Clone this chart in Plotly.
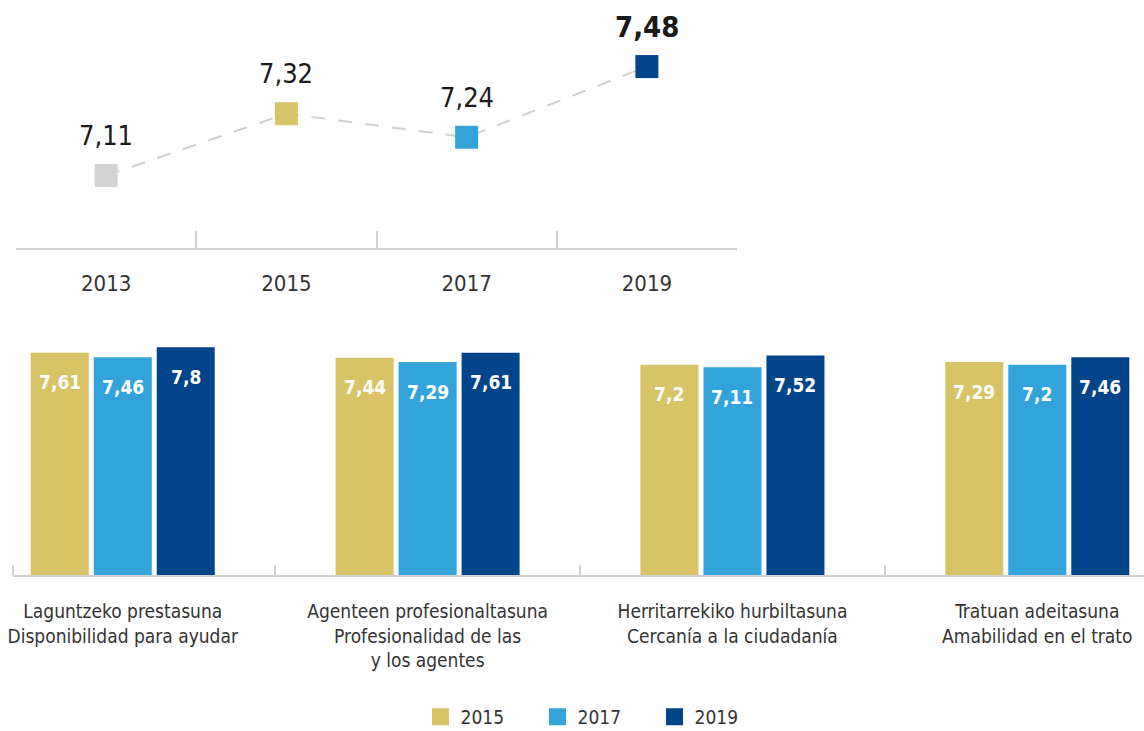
import plotly.graph_objects as go

# ---- data ----
years_trend = ["2013", "2015", "2017", "2019"]
trend_values = [7.11, 7.32, 7.24, 7.48]

categories = [
    "Laguntzeko prestasuna<br>Disponibilidad para ayudar",
    "Agenteen profesionaltasuna<br>Profesionalidad de las<br>y los agentes",
    "Herritarrekiko hurbiltasuna<br>Cercanía a la ciudadanía",
    "Tratuan adeitasuna<br>Amabilidad en el trato",
]
series_names = ["2015", "2017", "2019"]
values_2015 = [7.61, 7.44, 7.20, 7.29]
values_2017 = [7.46, 7.29, 7.11, 7.20]
values_2019 = [7.80, 7.61, 7.52, 7.46]

# ---- styles ----
FONT = "DejaVu Sans Condensed, Liberation Sans Narrow, Arial Narrow, sans-serif"
C_GRAY = "#d3d3d3"
C_GOLD = "#d9c367"
C_LBLUE = "#33a3db"
C_NAVY = "#00458a"
AXIS_C = "#d0d0d0"
W, H = 1144, 731
BAR_LINE = 5


def fmt(v):
    s = ("%.2f" % v).rstrip("0").rstrip(".")
    return s.replace(".", ",")


fig = go.Figure()

# top trend line
fig.add_trace(go.Scatter(
    x=years_trend, y=trend_values, mode="lines+markers",
    line=dict(color=AXIS_C, width=2, dash="14px,13px"),
    marker=dict(symbol="square", size=23, color=[C_GRAY, C_GOLD, C_LBLUE, C_NAVY]),
    xaxis="x", yaxis="y", showlegend=False, hoverinfo="x+y",
))

# value labels for the trend (category index used for x)
for i, v in enumerate(trend_values):
    last = i == len(trend_values) - 1
    fig.add_annotation(
        x=i, y=v, xref="x", yref="y", yshift=40, showarrow=False,
        text=("<b>%s</b>" % fmt(v)) if last else fmt(v),
        font=dict(family=FONT, size=29 if last else 27, color="#1a1a1a"),
    )

# bars
bar_colors = [C_GOLD, C_LBLUE, C_NAVY]
bar_series = [values_2015, values_2017, values_2019]
for name, vals, col in zip(series_names, bar_series, bar_colors):
    fig.add_trace(go.Bar(
        x=categories, y=vals, name=name,
        marker=dict(color=col, line=dict(width=BAR_LINE, color=col)),
        xaxis="x2", yaxis="y2",
    ))

slot_px = 63
for si, vals in enumerate(bar_series):
    for ci, v in enumerate(vals):
        fig.add_annotation(
            x=ci, y=v, xref="x2", yref="y2", xshift=(si - 1) * slot_px, yshift=-27,
            showarrow=False, text="<b>%s</b>" % fmt(v),
            font=dict(family=FONT, size=19, color="white"),
        )

# left end tick of the bar axis
fig.add_shape(type="line", xref="x2 domain", yref="y2 domain", x0=0, x1=0, y0=0, y1=10 / 235,
              line=dict(color=AXIS_C, width=2))

top_base = 1 - 248 / H
bot_base = 1 - 575 / H
bot_top = 1 - 340 / H

fig.update_layout(
    width=W, height=H, margin=dict(l=0, r=0, t=0, b=0, autoexpand=False),
    paper_bgcolor="white", plot_bgcolor="white",
    font=dict(family=FONT, color="#333333"),
    barmode="group", bargap=0.38, bargroupgap=1 - (58 - BAR_LINE) / 63,
    xaxis=dict(
        type="category", domain=[16 / W, 737 / W], range=[-0.5, 3.5], anchor="y",
        showline=True, linecolor=AXIS_C, linewidth=2, showgrid=False, zeroline=False,
        ticks="inside", tickson="boundaries", ticklen=17, tickwidth=2, tickcolor=AXIS_C,
        tickfont=dict(size=22, color="#333333"), ticklabelstandoff=15, automargin=False,
    ),
    yaxis=dict(domain=[top_base, 1], range=[6.864, 7.706], visible=False, anchor="x",
               automargin=False),
    xaxis2=dict(
        type="category", domain=[13 / W, 1], range=[-0.36, 3.35], anchor="y2",
        showline=True, linecolor=AXIS_C, linewidth=2, showgrid=False, zeroline=False,
        ticks="inside", tickson="boundaries", ticklen=10, tickwidth=2, tickcolor=AXIS_C,
        tickfont=dict(size=19, color="#333333"), ticklabelstandoff=18, automargin=False,
    ),
    yaxis2=dict(domain=[bot_base, bot_top], range=[0, 235 / 28.87], visible=False, anchor="x2",
                automargin=False),
    legend=dict(
        orientation="h", x=0.521, xanchor="center", y=1 - 717 / H, yanchor="middle",
        font=dict(size=19, color="#333333"), entrywidth=72, itemwidth=30,
    ),
    showlegend=True,
)

PAGE_FIX = (
    "document.documentElement.style.margin='0';"
    "document.documentElement.style.overflow='hidden';"
    "document.body.style.margin='0';"
    "document.body.style.overflow='hidden';"
)

fig.write_html("out.html", config={"displayModeBar": False}, post_script=PAGE_FIX)
